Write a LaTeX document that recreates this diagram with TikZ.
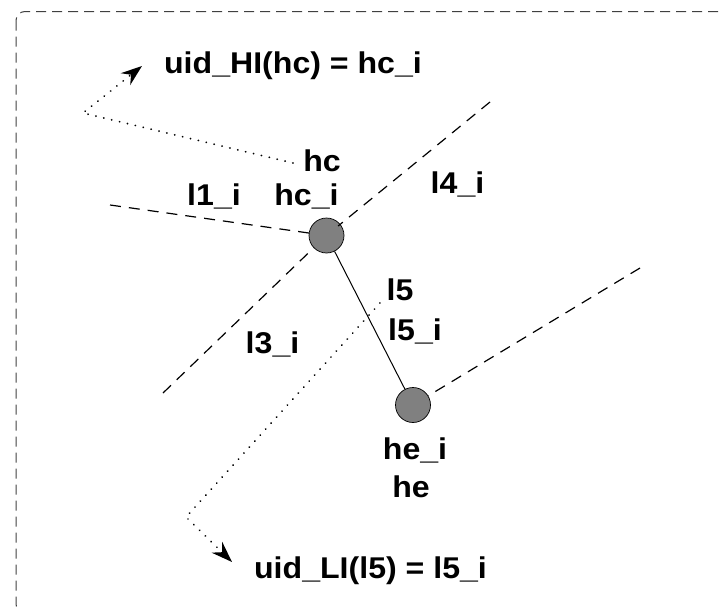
\documentclass[tikz,border=0pt]{standalone}
\usepackage{fontspec}
\setmainfont{Liberation Sans}
\newfontfamily\lblfont{Liberation Sans}[FakeStretch=1.07]
\usetikzlibrary{arrows.meta}
\begin{document}
\begin{tikzpicture}[x=1pt,y=-1pt,
  lbl/.style={font=\lblfont\fontsize{30}{30}\selectfont\bfseries, inner sep=0pt, anchor=base},
  vertex/.style={circle, draw=black, line width=0.7pt, fill=black!50, minimum size=35pt, inner sep=0pt},
  dashline/.style={line width=1.2pt, dash pattern=on 11pt off 8pt},
  dotline/.style={line width=1.9pt, dash pattern=on 0.1pt off 8pt, line cap=round},
  ptr/.style={-{Stealth[length=21pt,width=15pt,inset=7pt]}},
  frame/.style={line width=1pt, draw=black!75, dash pattern=on 10pt off 6pt, rounded corners=9pt}
]
\useasboundingbox (0,0) rectangle (724,608);
\begin{scope}
  \clip (0,0) rectangle (724,608);
  \draw[frame] (16,11.5) rectangle (760,613);
\end{scope}

% vertices
\node[vertex] (hc) at (326.5,235.5) {};
\node[vertex] (he) at (413,405) {};

% outer ends of the dashed lines
\coordinate (l1end) at (110,205);
\coordinate (l4end) at (490,102);
\coordinate (l3end) at (163,393);
\coordinate (l2end) at (640,268);

\draw[line width=1pt] (hc) -- (he);
\draw[dashline] (l1end) -- (hc);
\draw[dashline] (l3end) -- (hc);
\draw[dashline, shorten >=15pt] (l4end) -- (hc.center);
\draw[dashline] (l2end) -- (he);

% labels
\node[lbl] (uidhi) at (293,73) {uid\_HI(hc) = hc\_i};
\node[lbl] (hclbl) at (322,171) {hc};
\node[lbl] (hci) at (306.5,205) {hc\_i};
\node[lbl] (l1i) at (214,205) {l1\_i};
\node[lbl] (l4i) at (457.5,193) {l4\_i};
\node[lbl] (l5lbl) at (400,300) {l5};
\node[lbl] (l5i) at (415,340) {l5\_i};
\node[lbl] (l3i) at (272.5,353) {l3\_i};
\node[lbl] (hei) at (415,459) {he\_i};
\node[lbl] (helbl) at (411,497) {he};
\node[lbl] (uidli) at (370.5,578) {uid\_LI(l5) = l5\_i};

% dotted pointers
\coordinate (c1) at (83,113);
\coordinate (t1) at (142,66);
\coordinate (s1) at (293,163);
\coordinate (c2) at (186,517);
\coordinate (t2) at (232,562);
\coordinate (s2) at (380,303);
\draw[dotline, ptr] (s1) -- (c1) -- (t1);
\draw[dotline, ptr] (s2) -- (c2) -- (t2);
\end{tikzpicture}
\end{document}
